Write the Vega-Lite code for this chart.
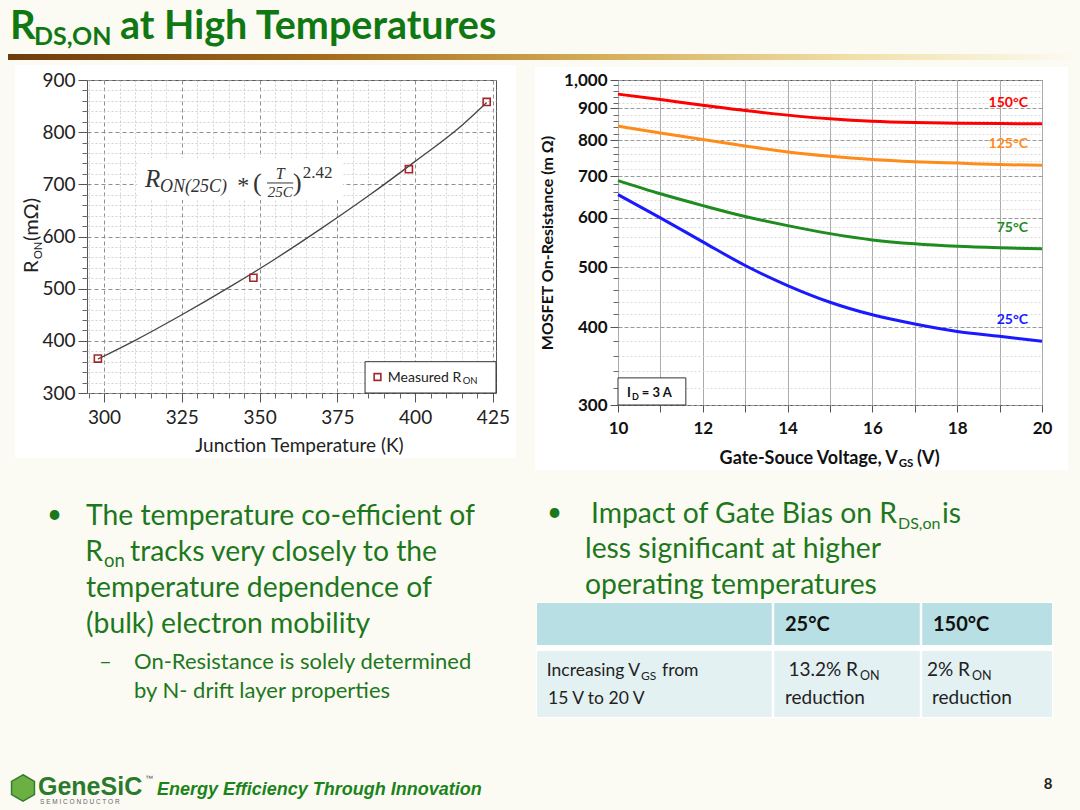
{
  "$schema": "https://vega.github.io/schema/vega-lite/v6.json",
  "background": "#fcfbf3",
  "padding": 0,
  "autosize": {"type": "pad"},
  "bounds": "flush",
  "spacing": 18,
  "config": {
    "font": "Lato",
    "view": {"stroke": null},
    "text": {"baseline": "alphabetic", "align": "left"}
  },
  "vconcat": [
    {
      "width": 1080,
      "height": 62,
      "layer": [
        {
          "data": {"values": [{"label": "slide"}]},
          "mark": {"type": "rect", "fill": "#fcfbf3"},
          "encoding": {
            "x": {"datum": 0, "type": "quantitative", "scale": {"domain": [0, 1080], "nice": false, "zero": false}, "axis": null},
            "x2": {"datum": 1080},
            "y": {"datum": 0, "type": "quantitative", "scale": {"domain": [0, 62], "reverse": true, "nice": false, "zero": false}, "axis": null},
            "y2": {"datum": 810}
          }
        },
        {
          "data": {"values": [{"label": "left panel"}]},
          "mark": {"type": "rect", "fill": "#ffffff"},
          "encoding": {"x": {"datum": 15, "axis": null}, "x2": {"datum": 516}, "y": {"datum": 65, "axis": null}, "y2": {"datum": 458}}
        },
        {
          "data": {"values": [{"label": "right panel"}]},
          "mark": {"type": "rect", "fill": "#ffffff"},
          "encoding": {"x": {"datum": 535, "axis": null}, "x2": {"datum": 1068}, "y": {"datum": 67, "axis": null}, "y2": {"datum": 470}}
        },
        {
          "data": {"values": [{"label": "title bar"}]},
          "mark": {"type": "rect", "fill": {"x1": 0, "y1": 0, "x2": 1, "y2": 0, "gradient": "linear", "stops": [
            {"offset": 0, "color": "#6e3b0c"},
            {"offset": 0.3, "color": "#a56c1c"},
            {"offset": 0.55, "color": "#d4ad58"},
            {"offset": 0.8, "color": "#f1e2ad"},
            {"offset": 1, "color": "#fcfbf3"}
          ]}},
          "encoding": {"x": {"datum": 8, "axis": null}, "x2": {"datum": 1080}, "y": {"datum": 54, "axis": null}, "y2": {"datum": 60}}
        },
        {
          "data": {"values": [{"label": "R"}]},
          "mark": {"type": "text", "fontSize": 40, "fontWeight": "bold", "color": "#107812"},
          "encoding": {"x": {"datum": 10, "axis": null}, "y": {"datum": 39, "axis": null}, "text": {"field": "label"}}
        },
        {
          "data": {"values": [{"label": "DS,ON"}]},
          "mark": {"type": "text", "fontSize": 25, "fontWeight": "bold", "color": "#107812"},
          "encoding": {"x": {"datum": 34, "axis": null}, "y": {"datum": 45, "axis": null}, "text": {"field": "label"}}
        },
        {
          "data": {"values": [{"label": "at High Temperatures"}]},
          "mark": {"type": "text", "fontSize": 39.5, "fontWeight": "bold", "color": "#107812"},
          "encoding": {"x": {"datum": 120, "axis": null}, "y": {"datum": 39, "axis": null}, "text": {"field": "label"}}
        },
        {
          "data": {"values": [{"label": "table frame"}]},
          "mark": {"type": "rect", "fill": "#ffffff"},
          "encoding": {"x": {"datum": 536, "axis": null}, "x2": {"datum": 1053}, "y": {"datum": 602, "axis": null}, "y2": {"datum": 718}}
        },
        {
          "data": {"values": [{"label": "header row"}]},
          "mark": {"type": "rect", "fill": "#b8dfe3"},
          "encoding": {"x": {"datum": 537, "axis": null}, "x2": {"datum": 1052}, "y": {"datum": 603, "axis": null}, "y2": {"datum": 645}}
        },
        {
          "data": {"values": [{"label": "body row"}]},
          "mark": {"type": "rect", "fill": "#e3f1f3"},
          "encoding": {"x": {"datum": 537, "axis": null}, "x2": {"datum": 1052}, "y": {"datum": 651, "axis": null}, "y2": {"datum": 717}}
        },
        {
          "data": {"values": [{"label": "column rule"}]},
          "mark": {"type": "rule", "color": "#ffffff", "strokeWidth": 2.5},
          "encoding": {"x": {"datum": 773, "axis": null}, "y": {"datum": 602, "axis": null}, "y2": {"datum": 718}}
        },
        {
          "data": {"values": [{"label": "column rule"}]},
          "mark": {"type": "rule", "color": "#ffffff", "strokeWidth": 2.5},
          "encoding": {"x": {"datum": 921, "axis": null}, "y": {"datum": 602, "axis": null}, "y2": {"datum": 718}}
        },
        {
          "data": {"values": [{"label": "•"}]},
          "mark": {"type": "text", "fontSize": 26, "color": "#1d781d"},
          "encoding": {"x": {"datum": 47, "axis": null}, "y": {"datum": 523, "axis": null}, "text": {"field": "label"}}
        },
        {
          "data": {"values": [{"label": "The temperature co-efficient of"}]},
          "mark": {"type": "text", "fontSize": 28.3, "color": "#1d781d"},
          "encoding": {"x": {"datum": 86, "axis": null}, "y": {"datum": 525, "axis": null}, "text": {"field": "label"}}
        },
        {
          "data": {"values": [{"label": "R"}]},
          "mark": {"type": "text", "fontSize": 28.3, "align": "right", "color": "#1d781d"},
          "encoding": {"x": {"datum": 103, "axis": null}, "y": {"datum": 561, "axis": null}, "text": {"field": "label"}}
        },
        {
          "data": {"values": [{"label": "on"}]},
          "mark": {"type": "text", "fontSize": 18.5, "color": "#1d781d"},
          "encoding": {"x": {"datum": 104, "axis": null}, "y": {"datum": 567, "axis": null}, "text": {"field": "label"}}
        },
        {
          "data": {"values": [{"label": "tracks very closely to the"}]},
          "mark": {"type": "text", "fontSize": 28.3, "color": "#1d781d"},
          "encoding": {"x": {"datum": 130, "axis": null}, "y": {"datum": 561, "axis": null}, "text": {"field": "label"}}
        },
        {
          "data": {"values": [{"label": "temperature dependence of"}]},
          "mark": {"type": "text", "fontSize": 28.3, "color": "#1d781d"},
          "encoding": {"x": {"datum": 86, "axis": null}, "y": {"datum": 597, "axis": null}, "text": {"field": "label"}}
        },
        {
          "data": {"values": [{"label": "(bulk) electron mobility"}]},
          "mark": {"type": "text", "fontSize": 28.3, "color": "#1d781d"},
          "encoding": {"x": {"datum": 86, "axis": null}, "y": {"datum": 633, "axis": null}, "text": {"field": "label"}}
        },
        {
          "data": {"values": [{"label": "–"}]},
          "mark": {"type": "text", "fontSize": 22, "color": "#1d781d"},
          "encoding": {"x": {"datum": 99, "axis": null}, "y": {"datum": 669, "axis": null}, "text": {"field": "label"}}
        },
        {
          "data": {"values": [{"label": "On-Resistance is solely determined"}]},
          "mark": {"type": "text", "fontSize": 22, "color": "#1d781d"},
          "encoding": {"x": {"datum": 134, "axis": null}, "y": {"datum": 669, "axis": null}, "text": {"field": "label"}}
        },
        {
          "data": {"values": [{"label": "by N- drift layer properties"}]},
          "mark": {"type": "text", "fontSize": 22, "color": "#1d781d"},
          "encoding": {"x": {"datum": 134, "axis": null}, "y": {"datum": 698, "axis": null}, "text": {"field": "label"}}
        },
        {
          "data": {"values": [{"label": "•"}]},
          "mark": {"type": "text", "fontSize": 26, "color": "#1d781d"},
          "encoding": {"x": {"datum": 547, "axis": null}, "y": {"datum": 521, "axis": null}, "text": {"field": "label"}}
        },
        {
          "data": {"values": [{"label": "Impact of Gate Bias on R"}]},
          "mark": {"type": "text", "fontSize": 28.3, "align": "right", "color": "#1d781d"},
          "encoding": {"x": {"datum": 897, "axis": null}, "y": {"datum": 523, "axis": null}, "text": {"field": "label"}}
        },
        {
          "data": {"values": [{"label": "DS,on"}]},
          "mark": {"type": "text", "fontSize": 16, "color": "#1d781d"},
          "encoding": {"x": {"datum": 898, "axis": null}, "y": {"datum": 529, "axis": null}, "text": {"field": "label"}}
        },
        {
          "data": {"values": [{"label": "is"}]},
          "mark": {"type": "text", "fontSize": 28.3, "color": "#1d781d"},
          "encoding": {"x": {"datum": 942, "axis": null}, "y": {"datum": 523, "axis": null}, "text": {"field": "label"}}
        },
        {
          "data": {"values": [{"label": "less significant at higher"}]},
          "mark": {"type": "text", "fontSize": 28.3, "color": "#1d781d"},
          "encoding": {"x": {"datum": 585, "axis": null}, "y": {"datum": 558, "axis": null}, "text": {"field": "label"}}
        },
        {
          "data": {"values": [{"label": "operating temperatures"}]},
          "mark": {"type": "text", "fontSize": 28.3, "color": "#1d781d"},
          "encoding": {"x": {"datum": 585, "axis": null}, "y": {"datum": 594, "axis": null}, "text": {"field": "label"}}
        },
        {
          "data": {"values": [{"label": "25°C"}]},
          "mark": {"type": "text", "fontSize": 20, "fontWeight": "bold", "color": "#111111"},
          "encoding": {"x": {"datum": 785, "axis": null}, "y": {"datum": 631, "axis": null}, "text": {"field": "label"}}
        },
        {
          "data": {"values": [{"label": "150°C"}]},
          "mark": {"type": "text", "fontSize": 20, "fontWeight": "bold", "color": "#111111"},
          "encoding": {"x": {"datum": 933, "axis": null}, "y": {"datum": 631, "axis": null}, "text": {"field": "label"}}
        },
        {
          "data": {"values": [{"label": "Increasing V"}]},
          "mark": {"type": "text", "fontSize": 17.5, "align": "right", "color": "#222222"},
          "encoding": {"x": {"datum": 640, "axis": null}, "y": {"datum": 676, "axis": null}, "text": {"field": "label"}}
        },
        {
          "data": {"values": [{"label": "GS"}]},
          "mark": {"type": "text", "fontSize": 12, "color": "#222222"},
          "encoding": {"x": {"datum": 641, "axis": null}, "y": {"datum": 680, "axis": null}, "text": {"field": "label"}}
        },
        {
          "data": {"values": [{"label": "from"}]},
          "mark": {"type": "text", "fontSize": 17.5, "color": "#222222"},
          "encoding": {"x": {"datum": 662, "axis": null}, "y": {"datum": 676, "axis": null}, "text": {"field": "label"}}
        },
        {
          "data": {"values": [{"label": "15 V to 20 V"}]},
          "mark": {"type": "text", "fontSize": 17.5, "color": "#222222"},
          "encoding": {"x": {"datum": 548, "axis": null}, "y": {"datum": 704, "axis": null}, "text": {"field": "label"}}
        },
        {
          "data": {"values": [{"label": "13.2% R"}]},
          "mark": {"type": "text", "fontSize": 19, "align": "right", "color": "#222222"},
          "encoding": {"x": {"datum": 858, "axis": null}, "y": {"datum": 676, "axis": null}, "text": {"field": "label"}}
        },
        {
          "data": {"values": [{"label": "ON"}]},
          "mark": {"type": "text", "fontSize": 12.5, "color": "#222222"},
          "encoding": {"x": {"datum": 860, "axis": null}, "y": {"datum": 680, "axis": null}, "text": {"field": "label"}}
        },
        {
          "data": {"values": [{"label": "reduction"}]},
          "mark": {"type": "text", "fontSize": 19, "color": "#222222"},
          "encoding": {"x": {"datum": 785, "axis": null}, "y": {"datum": 704, "axis": null}, "text": {"field": "label"}}
        },
        {
          "data": {"values": [{"label": "2% R"}]},
          "mark": {"type": "text", "fontSize": 19, "align": "right", "color": "#222222"},
          "encoding": {"x": {"datum": 970, "axis": null}, "y": {"datum": 676, "axis": null}, "text": {"field": "label"}}
        },
        {
          "data": {"values": [{"label": "ON"}]},
          "mark": {"type": "text", "fontSize": 12.5, "color": "#222222"},
          "encoding": {"x": {"datum": 972, "axis": null}, "y": {"datum": 680, "axis": null}, "text": {"field": "label"}}
        },
        {
          "data": {"values": [{"label": "reduction"}]},
          "mark": {"type": "text", "fontSize": 19, "color": "#222222"},
          "encoding": {"x": {"datum": 932, "axis": null}, "y": {"datum": 704, "axis": null}, "text": {"field": "label"}}
        },
        {
          "data": {"values": [{"label": "GeneSiC logo"}]},
          "mark": {"type": "point", "shape": "M0,-1L0.866,-0.5L0.866,0.5L0,1L-0.866,0.5L-0.866,-0.5Z", "filled": true, "fill": "#6cb044", "stroke": "#2f7d2f", "strokeWidth": 1.5, "size": 700, "opacity": 1},
          "encoding": {"x": {"datum": 23, "axis": null}, "y": {"datum": 788, "axis": null}}
        },
        {
          "data": {"values": [{"label": "GeneSiC"}]},
          "mark": {"type": "text", "font": "Liberation Sans", "fontSize": 25, "fontWeight": "bold", "color": "#2b7a2b"},
          "encoding": {"x": {"datum": 38, "axis": null}, "y": {"datum": 795, "axis": null}, "text": {"field": "label"}}
        },
        {
          "data": {"values": [{"label": "™"}]},
          "mark": {"type": "text", "font": "Liberation Sans", "fontSize": 8, "color": "#555555"},
          "encoding": {"x": {"datum": 145, "axis": null}, "y": {"datum": 781, "axis": null}, "text": {"field": "label"}}
        },
        {
          "data": {"values": [{"label": "S E M I C O N D U C T O R"}]},
          "mark": {"type": "text", "font": "Liberation Sans", "fontSize": 6.5, "color": "#666666"},
          "encoding": {"x": {"datum": 40, "axis": null}, "y": {"datum": 804, "axis": null}, "text": {"field": "label"}}
        },
        {
          "data": {"values": [{"label": "Energy Efficiency Through Innovation"}]},
          "mark": {"type": "text", "font": "Liberation Sans", "fontSize": 18, "fontWeight": "bold", "fontStyle": "italic", "color": "#1a841a"},
          "encoding": {"x": {"datum": 157, "axis": null}, "y": {"datum": 795, "axis": null}, "text": {"field": "label"}}
        },
        {
          "data": {"values": [{"label": "8"}]},
          "mark": {"type": "text", "fontSize": 15, "fontWeight": "bold", "align": "center", "color": "#222222"},
          "encoding": {"x": {"datum": 1048, "axis": null}, "y": {"datum": 789, "axis": null}, "text": {"field": "label"}}
        }
      ]
    },
    {
      "hconcat": [
        {"width": 87, "height": 325, "data": {"values": []}, "mark": "point"},
        {
          "width": 409,
          "height": 313,
          "view": {"fill": "#ffffff", "stroke": "#555555", "strokeWidth": 1},
          "resolve": {"axis": {"x": "independent", "y": "independent"}},
          "layer": [
            {
              "data": {"values": [
                {"T": 298, "R": 365}, {"T": 310, "R": 401}, {"T": 325, "R": 450},
                {"T": 340, "R": 502}, {"T": 355, "R": 557}, {"T": 370, "R": 616},
                {"T": 385, "R": 678}, {"T": 400, "R": 744}, {"T": 415, "R": 813},
                {"T": 423, "R": 857}
              ]},
              "mark": {"type": "line", "color": "#444444", "strokeWidth": 1.3, "interpolate": "monotone"},
              "encoding": {
                "x": {"field": "T", "type": "quantitative",
                  "scale": {"domain": [294.5, 426], "nice": false, "zero": false},
                  "axis": {"orient": "bottom", "values": [295, 305, 310, 315, 320, 330, 335, 340, 345, 355, 360, 365, 370, 380, 385, 390, 395, 405, 410, 415, 420],
                    "labels": false, "title": null, "domain": false, "tickSize": 5, "tickColor": "#666666",
                    "grid": true, "gridColor": "#c6c6c6", "gridDash": [2, 2], "gridWidth": 0.8}},
                "y": {"field": "R", "type": "quantitative",
                  "scale": {"domain": [300, 900], "nice": false, "zero": false},
                  "axis": {"orient": "left", "values": [320, 340, 360, 380, 420, 440, 460, 480, 520, 540, 560, 580, 620, 640, 660, 680, 720, 740, 760, 780, 820, 840, 860, 880],
                    "labels": false, "title": null, "domain": false, "tickSize": 5, "tickColor": "#666666",
                    "grid": true, "gridColor": "#c6c6c6", "gridDash": [2, 2], "gridWidth": 0.8}}
              }
            },
            {
              "data": {"values": [
                {"T": 298, "R": 366}, {"T": 348, "R": 521}, {"T": 398, "R": 729}, {"T": 423, "R": 858}
              ]},
              "mark": {"type": "point", "shape": "square", "filled": false, "color": "#a3282b", "size": 50, "strokeWidth": 1.6, "opacity": 1},
              "encoding": {
                "x": {"field": "T", "type": "quantitative",
                  "axis": {"orient": "bottom", "values": [300, 325, 350, 375, 400, 425], "title": "Junction Temperature (K)",
                    "titleFontSize": 19, "titleFontWeight": "normal", "titleColor": "#222222", "titlePadding": 9, "titleX": 212, "titleAlign": "center",
                    "labelFontSize": 19, "labelColor": "#222222", "labelPadding": 6, "labelFlush": false, "labelOverlap": false,
                    "tickSize": 9, "tickColor": "#555555", "domain": false,
                    "grid": true, "gridColor": "#8f8f8f", "gridDash": [4, 3], "gridWidth": 1}},
                "y": {"field": "R", "type": "quantitative",
                  "axis": {"orient": "left", "values": [300, 400, 500, 600, 700, 800, 900], "title": null,
                    "labelFontSize": 19, "labelColor": "#222222", "labelPadding": 3, "labelOverlap": false,
                    "tickSize": 9, "tickColor": "#555555", "domain": false,
                    "grid": true, "gridColor": "#8f8f8f", "gridDash": [4, 3], "gridWidth": 1}}
              }
            },
            {
              "data": {"values": [{"label": "formula background"}]},
              "mark": {"type": "rect", "fill": "#ffffff"},
              "encoding": {"x": {"datum": 310.6, "axis": null}, "x2": {"datum": 376.8}, "y": {"datum": 750.5, "axis": null}, "y2": {"datum": 670}}
            },
            {
              "data": {"values": [{"label": "R"}]},
              "mark": {"type": "text", "font": "Liberation Serif", "fontStyle": "italic", "fontSize": 25, "color": "#333333"},
              "encoding": {"x": {"datum": 313.15, "axis": null}, "y": {"datum": 694.9, "axis": null}, "text": {"field": "label"}}
            },
            {
              "data": {"values": [{"label": "ON(25C)"}]},
              "mark": {"type": "text", "font": "Liberation Serif", "fontStyle": "italic", "fontSize": 18, "color": "#333333"},
              "encoding": {"x": {"datum": 318.0, "axis": null}, "y": {"datum": 685.3, "axis": null}, "text": {"field": "label"}}
            },
            {
              "data": {"values": [{"label": "*"}]},
              "mark": {"type": "text", "font": "Liberation Serif", "fontSize": 24, "align": "center", "color": "#333333"},
              "encoding": {"x": {"datum": 344.7, "axis": null}, "y": {"datum": 683.4, "axis": null}, "text": {"field": "label"}}
            },
            {
              "data": {"values": [{"label": "("}]},
              "mark": {"type": "text", "font": "Liberation Serif", "fontSize": 26, "color": "#333333"},
              "encoding": {"x": {"datum": 347.9, "axis": null}, "y": {"datum": 687.2, "axis": null}, "text": {"field": "label"}}
            },
            {
              "data": {"values": [{"label": "T"}]},
              "mark": {"type": "text", "font": "Liberation Serif", "fontStyle": "italic", "fontSize": 16, "align": "center", "color": "#333333"},
              "encoding": {"x": {"datum": 356.6, "axis": null}, "y": {"datum": 710.2, "axis": null}, "text": {"field": "label"}}
            },
            {
              "data": {"values": [{"label": "fraction bar"}]},
              "mark": {"type": "rule", "color": "#333333", "strokeWidth": 1},
              "encoding": {"x": {"datum": 352.4, "axis": null}, "x2": {"datum": 360.8}, "y": {"datum": 702.6, "axis": null}}
            },
            {
              "data": {"values": [{"label": "25C"}]},
              "mark": {"type": "text", "font": "Liberation Serif", "fontStyle": "italic", "fontSize": 15, "align": "center", "color": "#333333"},
              "encoding": {"x": {"datum": 356.6, "axis": null}, "y": {"datum": 675.7, "axis": null}, "text": {"field": "label"}}
            },
            {
              "data": {"values": [{"label": ")"}]},
              "mark": {"type": "text", "font": "Liberation Serif", "fontSize": 26, "color": "#333333"},
              "encoding": {"x": {"datum": 360.7, "axis": null}, "y": {"datum": 687.2, "axis": null}, "text": {"field": "label"}}
            },
            {
              "data": {"values": [{"label": "2.42"}]},
              "mark": {"type": "text", "font": "Liberation Serif", "fontSize": 17, "color": "#333333"},
              "encoding": {"x": {"datum": 363.9, "axis": null}, "y": {"datum": 712.1, "axis": null}, "text": {"field": "label"}}
            },
            {
              "data": {"values": [{"label": "legend box"}]},
              "mark": {"type": "rect", "fill": "#ffffff", "stroke": "#333333", "strokeWidth": 1},
              "encoding": {"x": {"datum": 383.9, "axis": null}, "x2": {"datum": 426}, "y": {"datum": 360, "axis": null}, "y2": {"datum": 300}}
            },
            {
              "data": {"values": [{"label": "Measured"}]},
              "mark": {"type": "point", "shape": "square", "filled": false, "color": "#a3282b", "size": 45, "strokeWidth": 1.6, "opacity": 1},
              "encoding": {"x": {"datum": 387.9, "axis": null}, "y": {"datum": 330.7, "axis": null}}
            },
            {
              "data": {"values": [{"label": "Measured R"}]},
              "mark": {"type": "text", "fontSize": 14, "align": "right", "color": "#222222"},
              "encoding": {"x": {"datum": 414.8, "axis": null}, "y": {"datum": 321.1, "axis": null}, "text": {"field": "label"}}
            },
            {
              "data": {"values": [{"label": "ON"}]},
              "mark": {"type": "text", "fontSize": 9.5, "color": "#222222"},
              "encoding": {"x": {"datum": 415.3, "axis": null}, "y": {"datum": 316.3, "axis": null}, "text": {"field": "label"}}
            },
            {
              "data": {"values": [{"label": "R"}]},
              "mark": {"type": "text", "fontSize": 20, "angle": 270, "color": "#222222"},
              "encoding": {"x": {"datum": 278.75, "axis": null}, "y": {"datum": 530, "axis": null}, "text": {"field": "label"}}
            },
            {
              "data": {"values": [{"label": "ON"}]},
              "mark": {"type": "text", "fontSize": 11, "angle": 270, "dx": 14, "dy": 4, "color": "#222222"},
              "encoding": {"x": {"datum": 278.75, "axis": null}, "y": {"datum": 530, "axis": null}, "text": {"field": "label"}}
            },
            {
              "data": {"values": [{"label": "(mΩ)"}]},
              "mark": {"type": "text", "fontSize": 20, "angle": 270, "dx": 32, "color": "#222222"},
              "encoding": {"x": {"datum": 278.75, "axis": null}, "y": {"datum": 530, "axis": null}, "text": {"field": "label"}}
            }
          ]
        },
        {"width": 122, "height": 325, "data": {"values": []}, "mark": "point"},
        {
          "width": 424,
          "height": 325,
          "view": {"fill": "#ffffff", "stroke": "#555555", "strokeWidth": 1},
          "resolve": {"axis": {"x": "independent", "y": "independent"}},
          "data": {"values": [
            {"v": 10, "r": 949, "t": "150°C"}, {"v": 11, "r": 930, "t": "150°C"}, {"v": 12, "r": 911, "t": "150°C"},
            {"v": 13, "r": 893, "t": "150°C"}, {"v": 14, "r": 878, "t": "150°C"}, {"v": 15, "r": 866, "t": "150°C"},
            {"v": 16, "r": 858, "t": "150°C"}, {"v": 17, "r": 854, "t": "150°C"}, {"v": 18, "r": 852, "t": "150°C"},
            {"v": 19, "r": 851, "t": "150°C"}, {"v": 20, "r": 850, "t": "150°C"},
            {"v": 10, "r": 843, "t": "125°C"}, {"v": 11, "r": 822, "t": "125°C"}, {"v": 12, "r": 802, "t": "125°C"},
            {"v": 13, "r": 783, "t": "125°C"}, {"v": 14, "r": 766, "t": "125°C"}, {"v": 15, "r": 754, "t": "125°C"},
            {"v": 16, "r": 745, "t": "125°C"}, {"v": 17, "r": 739, "t": "125°C"}, {"v": 18, "r": 735, "t": "125°C"},
            {"v": 19, "r": 731, "t": "125°C"}, {"v": 20, "r": 729, "t": "125°C"},
            {"v": 10, "r": 689, "t": "75°C"}, {"v": 11, "r": 656, "t": "75°C"}, {"v": 12, "r": 628, "t": "75°C"},
            {"v": 13, "r": 603, "t": "75°C"}, {"v": 14, "r": 583, "t": "75°C"}, {"v": 15, "r": 566, "t": "75°C"},
            {"v": 16, "r": 553, "t": "75°C"}, {"v": 17, "r": 545, "t": "75°C"}, {"v": 18, "r": 540, "t": "75°C"},
            {"v": 19, "r": 537, "t": "75°C"}, {"v": 20, "r": 535, "t": "75°C"},
            {"v": 10, "r": 654, "t": "25°C"}, {"v": 11, "r": 600, "t": "25°C"}, {"v": 12, "r": 549, "t": "25°C"},
            {"v": 13, "r": 503, "t": "25°C"}, {"v": 14, "r": 467, "t": "25°C"}, {"v": 15, "r": 439, "t": "25°C"},
            {"v": 16, "r": 419, "t": "25°C"}, {"v": 17, "r": 405, "t": "25°C"}, {"v": 18, "r": 394, "t": "25°C"},
            {"v": 19, "r": 387, "t": "25°C"}, {"v": 20, "r": 380, "t": "25°C"}
          ]},
          "layer": [
            {
              "mark": {"type": "line", "strokeWidth": 3, "interpolate": "monotone"},
              "encoding": {
                "x": {"field": "v", "type": "quantitative",
                  "scale": {"domain": [10, 20], "nice": false, "zero": false},
                  "axis": {"orient": "bottom", "values": [11, 13, 15, 17, 19], "title": null, "labels": false,
                    "tickSize": 7, "tickColor": "#555555", "domain": false,
                    "grid": true, "gridColor": "#ababab", "gridWidth": 1}},
                "y": {"field": "r", "type": "quantitative",
                  "scale": {"type": "log", "domain": [300, 1000], "nice": false, "zero": false},
                  "axis": {"orient": "left", "values": [320, 340, 360, 380, 420, 440, 460, 480, 520, 540, 560, 580, 620, 640, 660, 680, 720, 740, 760, 780, 820, 840, 860, 880, 920, 940, 960, 980],
                    "labels": false, "title": null, "domain": false, "tickSize": 5, "tickColor": "#666666",
                    "grid": true, "gridColor": "#d0d0d0", "gridDash": [2, 2], "gridWidth": 0.8}},
                "color": {"field": "t", "type": "nominal", "legend": null,
                  "scale": {"domain": ["150°C", "125°C", "75°C", "25°C"], "range": ["#ff0000", "#ff8c1a", "#1e8c1e", "#1a1aff"]}},
                "detail": {"field": "t"}
              }
            },
            {
              "transform": [{"filter": "datum.v === 20"}],
              "mark": {"type": "text", "fontSize": 14, "fontWeight": "bold", "align": "right", "baseline": "middle", "dx": -14, "dy": -21},
              "encoding": {
                "x": {"field": "v", "type": "quantitative",
                  "axis": {"orient": "bottom", "values": [10, 12, 14, 16, 18, 20], "title": null,
                    "labelFontSize": 17, "labelFontWeight": "bold", "labelColor": "#111111", "labelPadding": 8, "labelFlush": false, "labelOverlap": false,
                    "tickSize": 7, "tickColor": "#555555", "domain": false,
                    "grid": true, "gridColor": "#ababab", "gridWidth": 1}},
                "y": {"field": "r", "type": "quantitative",
                  "axis": {"orient": "left", "values": [300, 400, 500, 600, 700, 800, 900, 1000], "format": ",",
                    "title": "MOSFET On-Resistance (m Ω)", "titleFontSize": 16, "titleFontWeight": "bold", "titleColor": "#111111", "titlePadding": 8,
                    "labelFontSize": 17, "labelFontWeight": "bold", "labelColor": "#111111", "labelPadding": 3, "labelOverlap": false,
                    "tickSize": 8, "tickColor": "#555555", "domain": false,
                    "grid": true, "gridColor": "#9a9a9a", "gridDash": [4, 2], "gridWidth": 1}},
                "text": {"field": "t"},
                "color": {"field": "t", "type": "nominal", "legend": null}
              }
            },
            {
              "data": {"values": [{"label": "test current box"}]},
              "mark": {"type": "rect", "fill": "#ffffff", "stroke": "#333333", "strokeWidth": 1},
              "encoding": {"x": {"datum": 10, "axis": null}, "x2": {"datum": 11.6}, "y": {"datum": 331.7, "axis": null}, "y2": {"datum": 300}}
            },
            {
              "data": {"values": [{"label": "I"}]},
              "mark": {"type": "text", "fontSize": 13, "fontWeight": "bold", "color": "#111111"},
              "encoding": {"x": {"datum": 10.21, "axis": null}, "y": {"datum": 309, "axis": null}, "text": {"field": "label"}}
            },
            {
              "data": {"values": [{"label": "D"}]},
              "mark": {"type": "text", "fontSize": 9, "fontWeight": "bold", "color": "#111111"},
              "encoding": {"x": {"datum": 10.33, "axis": null}, "y": {"datum": 305.5, "axis": null}, "text": {"field": "label"}}
            },
            {
              "data": {"values": [{"label": "= 3 A"}]},
              "mark": {"type": "text", "fontSize": 13, "fontWeight": "bold", "color": "#111111"},
              "encoding": {"x": {"datum": 10.56, "axis": null}, "y": {"datum": 309, "axis": null}, "text": {"field": "label"}}
            },
            {
              "data": {"values": [{"label": "Gate-Souce Voltage, V"}]},
              "mark": {"type": "text", "fontSize": 18, "fontWeight": "bold", "align": "right", "color": "#111111"},
              "encoding": {"x": {"datum": 16.6, "axis": null}, "y": {"datum": 241.1, "axis": null}, "text": {"field": "label"}}
            },
            {
              "data": {"values": [{"label": "GS"}]},
              "mark": {"type": "text", "fontSize": 11.5, "fontWeight": "bold", "color": "#111111"},
              "encoding": {"x": {"datum": 16.62, "axis": null}, "y": {"datum": 238.4, "axis": null}, "text": {"field": "label"}}
            },
            {
              "data": {"values": [{"label": "(V)"}]},
              "mark": {"type": "text", "fontSize": 18, "fontWeight": "bold", "color": "#111111"},
              "encoding": {"x": {"datum": 17.05, "axis": null}, "y": {"datum": 241.1, "axis": null}, "text": {"field": "label"}}
            }
          ]
        }
      ],
      "spacing": 0,
      "bounds": "flush"
    }
  ]
}
